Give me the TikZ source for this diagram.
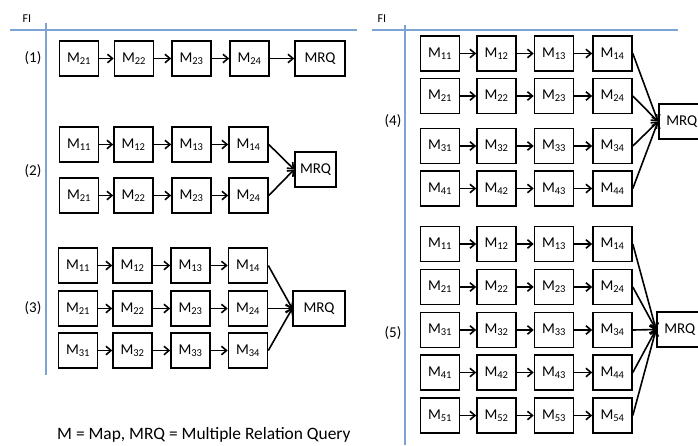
\documentclass[tikz,border=0pt]{standalone}
\usepackage{fontspec}
\setmainfont{Carlito}
\usetikzlibrary{arrows.meta}
\definecolor{axisblue}{RGB}{125,163,210}
\tikzset{
  mbox/.style={draw=black, line width=1.6pt, minimum width=39pt, minimum height=35pt, inner sep=0pt, font=\fontsize{15}{17}\selectfont},
  qbox/.style={draw=black, line width=1.6pt, minimum height=35pt, inner sep=0pt, font=\fontsize{15}{17}\selectfont},
  arr/.style={line width=1.6pt, -{Straight Barb[length=5pt,width=8.5pt]}},
  axis/.style={draw=axisblue, line width=2pt},
  lbl/.style={font=\fontsize{15}{17}\selectfont, inner sep=0pt},
}
\newcommand{\Msub}[1]{M\textsubscript{#1}}
\begin{document}
\begin{tikzpicture}[x=1pt,y=-1pt]
\useasboundingbox (0,0) rectangle (698,445);
\fill[white] (0,0) rectangle (698,445);
% axes
\coordinate (la) at (10,30); \coordinate (lb) at (357,30);
\coordinate (lc) at (46,23); \coordinate (ld) at (46,375);
\draw[axis] (la) -- (lb);
\draw[axis] (lc) -- (ld);
\coordinate (ra) at (372,30); \coordinate (rb) at (678,30);
\coordinate (rc) at (405,25); \coordinate (rd) at (405,445);
\draw[axis] (ra) -- (rb);
\draw[axis] (rc) -- (rd);
\node[lbl, font=\fontsize{12}{14}\selectfont] (fil) at (27,19) {FI};
\node[lbl, font=\fontsize{12}{14}\selectfont] (fir) at (382,19) {FI};
% panel 1
\node[lbl] (l1) at (33,58) {(1)};
\foreach \c/\x in {1/79,2/134,3/191.5,4/249.5}{
  \node[mbox] (a-\c) at (\x,58.5) {\Msub{2\c}};
}
\node[qbox, minimum width=50pt] (a-q) at (320,58.5) {MRQ};
\foreach \c/\n in {1/2,2/3,3/4}{\draw[arr] (a-\c.east) -- (a-\n.west);}
\draw[arr] (a-4.east) -- (a-q.west);
% panel 2
\node[lbl] (l2) at (33,171) {(2)};
\foreach \r/\y in {1/144.5,2/195.5}{
  \foreach \c/\x in {1/79,2/133.5,3/191.5,4/248.5}{
    \node[mbox] (b-\r-\c) at (\x,\y) {\Msub{\r\c}};
  }
  \foreach \c/\n in {1/2,2/3,3/4}{\draw[arr] (b-\r-\c.east) -- (b-\r-\n.west);}
}
\node[qbox, minimum width=41pt] (b-q) at (315.5,169.5) {MRQ};
\foreach \r in {1,2}{\draw[arr] (b-\r-4.east) -- (b-q.west);}
% panel 3
\node[lbl] (l3) at (33,308) {(3)};
\foreach \r/\y in {1/265.5,2/308.5,3/350.5}{
  \foreach \c/\x in {1/78,2/132.5,3/190.5,4/248}{
    \node[mbox] (c-\r-\c) at (\x,\y) {\Msub{\r\c}};
  }
  \foreach \c/\n in {1/2,2/3,3/4}{\draw[arr] (c-\r-\c.east) -- (c-\r-\n.west);}
}
\node[qbox, minimum width=52pt] (c-q) at (319,308.5) {MRQ};
\foreach \r in {1,2,3}{\draw[arr] (c-\r-4.east) -- (c-q.west);}
% caption
\node[lbl, anchor=west, font=\fontsize{17.4}{19}\selectfont] (cap) at (57,435) {M = Map, MRQ = Multiple Relation Query};
% panel 4
\node[lbl] (l4) at (393,121) {(4)};
\foreach \r/\y in {1/53.5,2/96,3/146,4/188.5}{
  \foreach \c/\x in {1/440,2/496.5,3/554,4/612.5}{
    \node[mbox] (d-\r-\c) at (\x,\y) {\Msub{\r\c}};
  }
  \foreach \c/\n in {1/2,2/3,3/4}{\draw[arr] (d-\r-\c.east) -- (d-\r-\n.west);}
}
\node[qbox, minimum width=60pt, anchor=west] (d-q) at (658,121.5) {\hspace*{-14pt}MRQ};
\foreach \r in {1,2,3,4}{\draw[arr] (d-\r-4.east) -- (d-q.west);}
% panel 5
\node[lbl] (l5) at (393,333) {(5)};
\foreach \r/\y in {1/244,2/287,3/330,4/372.5,5/415.5}{
  \foreach \c/\x in {1/440,2/496.5,3/554,4/612.5}{
    \node[mbox] (e-\r-\c) at (\x,\y) {\Msub{\r\c}};
  }
  \foreach \c/\n in {1/2,2/3,3/4}{\draw[arr] (e-\r-\c.east) -- (e-\r-\n.west);}
}
\node[qbox, minimum width=60pt, anchor=west] (e-q) at (656,329.5) {\hspace*{-14pt}MRQ};
\foreach \r in {1,2,3,4,5}{\draw[arr] (e-\r-4.east) -- (e-q.west);}
\end{tikzpicture}
\end{document}
